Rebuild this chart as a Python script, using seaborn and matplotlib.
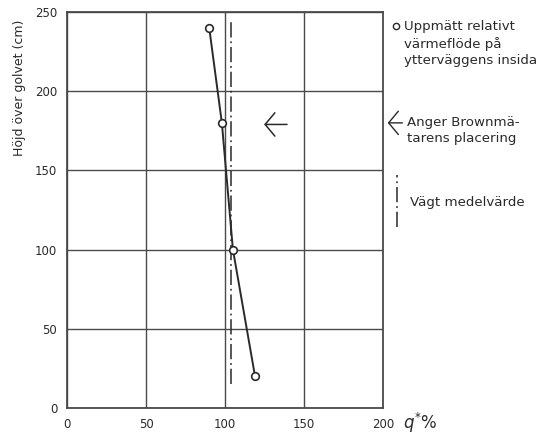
import matplotlib
matplotlib.use("Agg")
import matplotlib.pyplot as plt
import pandas as pd
import seaborn as sns

# measured relative heat flow on the inside of the outer wall
heat_flow = [90, 98, 105, 119]      # q* %
height_cm = [240, 180, 100, 20]     # height above floor (cm)

# weighted mean value (vertical dash-dot line)
mean_value = 104
mean_span = [15, 245]

# position of the Brown meters (arrow)
brown_height = 179
brown_arrow_x = [123, 141]

x_ticks = [0, 50, 100, 150, 200]
y_ticks = [0, 50, 100, 150, 200, 250]

ink = "#2a2a2a"
grid_ink = "#4a4a4a"
dashdot = (0, (10, 2.5, 1.2, 2.5))

sns.set_style("white")
plt.rcParams["font.family"] = ["DejaVu Sans"]

fig = plt.figure(figsize=(5.52, 4.34), dpi=100)
ax = fig.add_axes([0.1214, 0.0599, 0.5725, 0.9125])

df = pd.DataFrame({"q": heat_flow, "h": height_cm})

ax.plot([mean_value, mean_value], mean_span, color=ink, linewidth=1.1,
        linestyle=dashdot, zorder=3)
sns.lineplot(data=df, x="q", y="h", sort=False, color=ink, linewidth=1.4,
             marker="o", markersize=5.5, markerfacecolor="white",
             markeredgecolor=ink, markeredgewidth=1.2, ax=ax, zorder=4)

arrow_style = "->,head_length=0.35,head_width=0.42"
ax.annotate("", xy=(brown_arrow_x[0], brown_height), xytext=(brown_arrow_x[1], brown_height),
            arrowprops=dict(arrowstyle=arrow_style, color=ink, lw=1.1, mutation_scale=20))

ax.set_xlim(0, 200)
ax.set_ylim(0, 250)
ax.set_xticks(x_ticks)
ax.set_yticks(y_ticks)
ax.grid(True, color=grid_ink, linewidth=1.0)
for s in ax.spines.values():
    s.set_color(grid_ink)
    s.set_linewidth(1.3)
ax.tick_params(length=0, labelsize=8.5, colors=ink, pad=7)
ax.set_xlabel("")
ax.set_ylabel("Höjd över golvet (cm)", loc="top", fontsize=9, color=ink)
ax.yaxis.set_label_coords(-0.13, 0.98, transform=ax.transAxes)

ax.text(1.063, -0.037, "$q^{*}$%", transform=ax.transAxes, fontsize=12,
        color=ink, ha="left", va="center")

# explanation texts to the right of the chart
txt = dict(transform=ax.transAxes, fontsize=9.6, color=ink, ha="left", va="center")
ax.plot([1.04], [0.965], transform=ax.transAxes, clip_on=False, marker="o",
        markersize=4.5, markerfacecolor="white", markeredgecolor=ink, markeredgewidth=1.0)
ax.text(1.065, 0.92, "Uppmätt relativt\nvärmeflöde på\nytterväggens insida",
        linespacing=1.35, **txt)
ax.annotate("", xy=(1.006, 0.72), xytext=(1.07, 0.72), xycoords="axes fraction",
            arrowprops=dict(arrowstyle=arrow_style, color=ink, lw=1.0, mutation_scale=20))
ax.text(1.075, 0.70, "Anger Brownmä-\ntarens placering", linespacing=1.3, **txt)
ax.plot([1.044, 1.044], [0.457, 0.588], transform=ax.transAxes, clip_on=False,
        color=ink, linewidth=1.1, linestyle=dashdot)
ax.text(1.085, 0.52, "Vägt medelvärde", **txt)

fig.savefig("out.png", dpi=100)
